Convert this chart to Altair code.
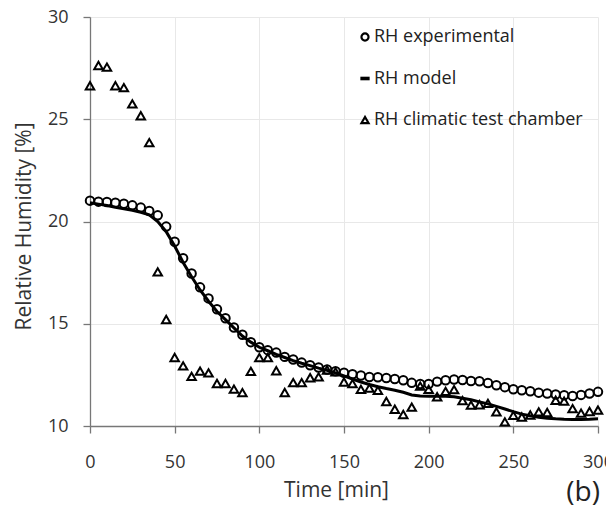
import altair as alt
import pandas as pd

# ---------------- data ----------------
times = list(range(0, 301, 5))

rh_experimental = [
    21.02, 20.97, 20.95, 20.92, 20.87, 20.79, 20.68, 20.51, 20.30, 19.75,
    19.01, 18.20, 17.46, 16.78, 16.24, 15.71, 15.27, 14.82, 14.46, 14.10,
    13.85, 13.71, 13.59, 13.38, 13.25, 13.10, 12.97, 12.86, 12.76, 12.68,
    12.60, 12.53, 12.47, 12.40, 12.38, 12.35, 12.30, 12.24, 12.11, 12.05,
    12.05, 12.17, 12.24, 12.27, 12.25, 12.20, 12.19, 12.10, 11.99, 11.90,
    11.80, 11.75, 11.70, 11.63, 11.59, 11.54, 11.50, 11.47, 11.52, 11.59,
    11.67,
]

rh_model = [
    20.92, 20.85, 20.78, 20.70, 20.62, 20.55, 20.45, 20.33, 20.00, 19.50,
    18.80, 18.00, 17.30, 16.65, 16.10, 15.60, 15.20, 14.80, 14.40, 14.10,
    13.85, 13.68, 13.50, 13.35, 13.20, 13.07, 12.95, 12.83, 12.72, 12.60,
    12.45, 12.30, 12.15, 12.03, 11.92, 11.83, 11.75, 11.65, 11.52, 11.47,
    11.45, 11.45, 11.45, 11.43, 11.36, 11.28, 11.18, 11.08, 10.96, 10.83,
    10.70, 10.58, 10.50, 10.43, 10.38, 10.35, 10.33, 10.32, 10.32, 10.33,
    10.35,
]

rh_chamber = [
    26.64, 27.63, 27.55, 26.64, 26.55, 25.75, 25.17, 23.86, 17.54, 15.21,
    13.35, 12.94, 12.43, 12.68, 12.60, 12.08, 12.08, 11.80, 11.63, 12.67,
    13.34, 13.34, 12.70, 11.64, 12.12, 12.12, 12.36, 12.40, 12.74, 12.65,
    12.15, 12.07, 11.79, 11.85, 11.74, 11.20, 10.82, 10.56, 10.92, 11.95,
    11.79, 11.43, 11.69, 11.78, 11.24, 11.02, 11.04, 11.11, 10.69, 10.20,
    10.52, 10.44, 10.54, 10.69, 10.66, 11.26, 11.22, 10.85, 10.63, 10.71,
    10.78,
]

series_names = ["RH experimental", "RH model", "RH climatic test chamber"]
x_ticks = [0, 50, 100, 150, 200, 250, 300]
y_ticks = [10, 15, 20, 25, 30]

df_exp = pd.DataFrame({"t": times, "rh": rh_experimental, "series": series_names[0]})
df_mod = pd.DataFrame({"t": times, "rh": rh_model, "series": series_names[1]})
df_ch = pd.DataFrame({"t": times, "rh": rh_chamber, "series": series_names[2]})

FONT = "Open Sans"

x_enc = alt.X(
    "t:Q",
    scale=alt.Scale(domain=[0, 300], nice=False, zero=False),
    axis=alt.Axis(
        values=x_ticks, title="Time [min]", labelFlush=False, labelOverlap=False,
        labelBaseline="middle", labelPadding=29,
        titleBaseline="middle", titleX=246, titleY=64,
    ),
)
y_enc = alt.Y(
    "rh:Q",
    scale=alt.Scale(domain=[10, 30], nice=False, zero=False),
    axis=alt.Axis(
        values=y_ticks, title="Relative Humidity [%]", labelFlush=False, labelOverlap=False,
        labelPadding=15, titleBaseline="middle", titleX=-66, titleY=209,
    ),
)

shape_scale = alt.Scale(
    domain=series_names,
    range=["circle", "M-1,-0.2H1V0.2H-1Z", "triangle-up"],
)
legend = alt.Legend(
    title=None,
    orient="none",
    legendX=266,
    legendY=11,
    labelFontSize=18,
    labelFont=FONT,
    labelColor="#222222",
    labelLimit=400,
    symbolSize=50,
    symbolStrokeWidth=2.2,
    symbolStrokeColor="black",
    symbolFillColor="transparent",
    rowPadding=23.5,
    labelOffset=0,
    padding=0,
)

line = alt.Chart(df_mod).mark_line(color="black", strokeWidth=3).encode(x=x_enc, y=y_enc)

pts_exp = alt.Chart(df_exp).mark_point(
    filled=False, color="black", strokeWidth=2, size=72, opacity=1
).encode(x=x_enc, y=y_enc, shape=alt.Shape("series:N", scale=shape_scale, legend=legend))

pts_ch = alt.Chart(df_ch).mark_point(
    filled=False, color="black", strokeWidth=2, size=72, opacity=1
).encode(x=x_enc, y=y_enc, shape=alt.Shape("series:N", scale=shape_scale, legend=legend))

chart = (
    alt.layer(line, pts_exp, pts_ch)
    .properties(
        width=508,
        height=409,
        autosize=alt.AutoSizeParams(type="none"),
        padding={"left": 82, "top": 9, "right": 8, "bottom": 85},
        title=alt.TitleParams(
            "(b)", orient="bottom", anchor="end", frame="group", fontSize=28, font=FONT,
            fontWeight="normal", color="#222222", offset=-21, dx=2,
        ),
    )
    .configure_view(strokeWidth=0)
    .configure_axis(
        labelFont=FONT,
        titleFont=FONT,
        labelFontSize=18,
        titleFontSize=21,
        titleFontWeight="normal",
        labelColor="#333333",
        titleColor="#333333",
        domainColor="#777777",
        domainWidth=1.3,
        tickColor="#777777",
        tickWidth=1.3,
        tickSize=7,
        gridColor="#e8e8e8",
        gridWidth=1,
    )
)

chart.save("out.html", embed_options={"renderer": "svg", "actions": False})
